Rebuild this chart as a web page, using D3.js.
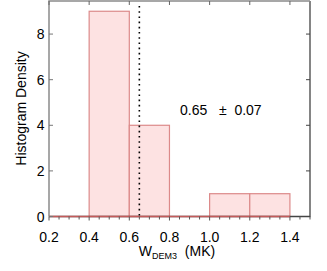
<!DOCTYPE html>
<html>
<head>
<meta charset="utf-8">
<script src="https://cdn.jsdelivr.net/npm/d3@7"></script>
<style>
  body { margin: 0; background: #fff; }
  text { font-family: "Liberation Sans", Arial, sans-serif; fill: #000; }
</style>
</head>
<body>
<div id="chart"></div>
<script>
const width = 327;
const height = 271;
const margin = {top: 1, right: 17, bottom: 54.5, left: 49};

// histogram bins (MK) and densities
const binEdges = [0.2, 0.4, 0.6, 0.8, 1.0, 1.2, 1.4];
const density = [0, 9, 4, 0, 1, 1];
const meanValue = 0.65;
const errValue = 0.07;
const xTicks = [0.2, 0.4, 0.6, 0.8, 1.0, 1.2, 1.4];
const yTicks = [0, 2, 4, 6, 8];

const svg = d3.select('#chart')
  .append('svg')
  .attr('width', width)
  .attr('height', height);

const x = d3.scaleLinear()
  .domain([0.2, 1.5])
  .range([margin.left, width - margin.right]);

const y = d3.scaleLinear()
  .domain([0, 9.45])
  .range([height - margin.bottom, margin.top]);

const bins = density.map((d, i) => ({x0: binEdges[i], x1: binEdges[i + 1], v: d}));

// bars
svg.append('g')
  .selectAll('rect')
  .data(bins.filter(d => d.v > 0))
  .enter()
  .append('rect')
  .attr('x', d => x(d.x0))
  .attr('y', d => y(d.v))
  .attr('width', d => x(d.x1) - x(d.x0))
  .attr('height', d => y(0) - y(d.v))
  .attr('fill', '#fde2e2')
  .attr('stroke', '#dc8a8a')
  .attr('stroke-width', 1.2);

// frame
const x0 = x.range()[0], x1 = x.range()[1];
const y0 = y.range()[0], y1 = y.range()[1];
svg.append('path')
  .attr('d', `M${x0},${y0}H${x1}V${y1}`)
  .attr('fill', 'none')
  .attr('stroke', '#444')
  .attr('stroke-width', 1.3);
svg.append('path')
  .attr('d', `M${x1},${y1}H${x0}V${y0}`)
  .attr('fill', 'none')
  .attr('stroke', '#8a8a8a')
  .attr('stroke-width', 1.5);

// red baseline of histogram
svg.append('line')
  .attr('x1', x(binEdges[0])).attr('x2', x(binEdges[binEdges.length - 1]))
  .attr('y1', y(0)).attr('y2', y(0))
  .attr('stroke', '#c45a5a')
  .attr('stroke-width', 1.5);

// bottom axis (ticks outward)
const xMinor = d3.range(0.2, 1.5001, 0.05).map(v => +v.toFixed(2));
svg.append('g').selectAll('line')
  .data(xMinor)
  .enter()
  .append('line')
  .attr('x1', d => x(d)).attr('x2', d => x(d))
  .attr('y1', y0)
  .attr('y2', d => y0 + (xTicks.some(t => Math.abs(t - d) < 1e-6) ? 4 : 3))
  .attr('stroke', '#555');

svg.append('g').selectAll('text')
  .data(xTicks)
  .enter()
  .append('text')
  .attr('x', d => x(d))
  .attr('y', y0 + 25.5)
  .attr('text-anchor', 'middle')
  .style('font-size', '14px')
  .text(d => d.toFixed(1));

// top axis ticks (inward)
svg.append('g').selectAll('line')
  .data(xTicks)
  .enter()
  .append('line')
  .attr('x1', d => x(d)).attr('x2', d => x(d))
  .attr('y1', y1).attr('y2', y1 + 4)
  .attr('stroke', '#666');

// left and right ticks (inward)
svg.append('g').selectAll('line')
  .data(yTicks)
  .enter()
  .append('line')
  .attr('x1', x0).attr('x2', x0 + 4)
  .attr('y1', d => y(d)).attr('y2', d => y(d))
  .attr('stroke', '#777');

svg.append('g').selectAll('line')
  .data(yTicks)
  .enter()
  .append('line')
  .attr('x1', x1).attr('x2', x1 - 4)
  .attr('y1', d => y(d)).attr('y2', d => y(d))
  .attr('stroke', '#444');

svg.append('g').selectAll('text')
  .data(yTicks)
  .enter()
  .append('text')
  .attr('x', x0 - 4.5)
  .attr('y', d => y(d) + 5)
  .attr('text-anchor', 'end')
  .style('font-size', '14px')
  .text(d => d);

// dotted mean line
svg.append('line')
  .attr('x1', x(meanValue)).attr('x2', x(meanValue))
  .attr('y1', y1 + 5).attr('y2', y0)
  .attr('stroke', '#000')
  .attr('stroke-width', 1.6)
  .attr('stroke-dasharray', '1.6,3.6');

// annotation
svg.append('text')
  .attr('x', 180)
  .attr('y', 115)
  .attr('xml:space', 'preserve')
  .style('font-size', '14px')
  .style('white-space', 'pre')
  .text(meanValue.toFixed(2) + '   \u00b1  ' + errValue.toFixed(2));

// y label
svg.append('text')
  .attr('transform', 'translate(26,' + 108.5 + ') rotate(-90)')
  .attr('text-anchor', 'middle')
  .style('font-size', '14px')
  .text('Histogram Density');

// x label
const xl = svg.append('text')
  .attr('x', 177)
  .attr('y', 256)
  .attr('text-anchor', 'middle')
  .style('font-size', '14px')
  .style('white-space', 'pre');
xl.append('tspan').text('W');
xl.append('tspan').attr('dy', 3).style('font-size', '9px').text('DEM3');
xl.append('tspan').attr('dy', -3).text('  (MK)');
</script>
</body>
</html>
